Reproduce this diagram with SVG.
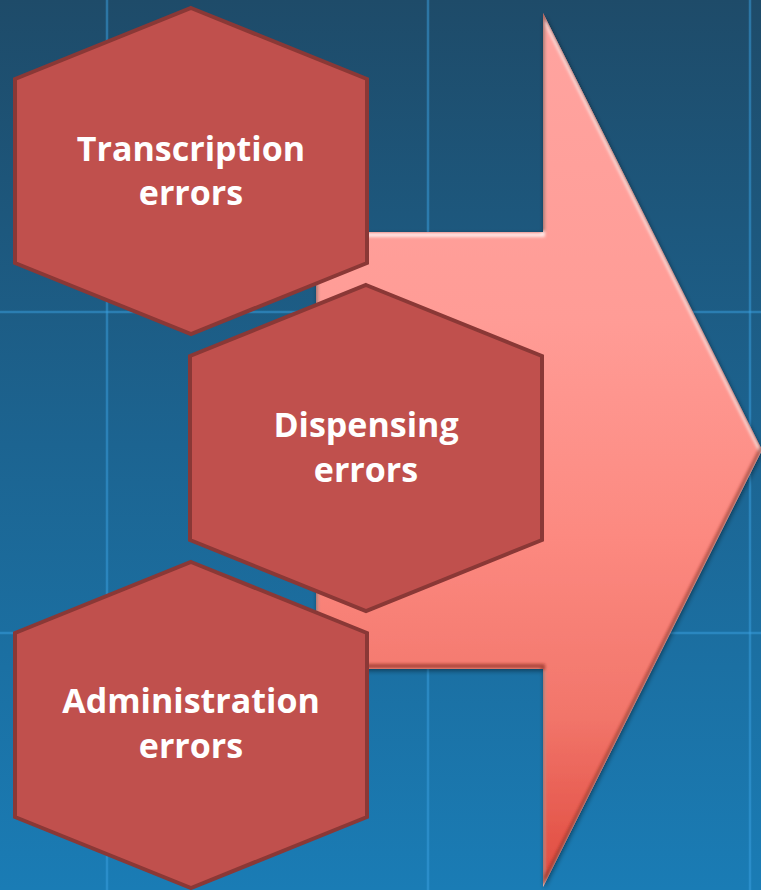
<svg xmlns="http://www.w3.org/2000/svg" width="761" height="890" viewBox="0 0 761 890">
  <defs>
    <linearGradient id="bg" x1="0" y1="0" x2="0" y2="1">
      <stop offset="0" stop-color="#1E4B69"/>
      <stop offset="0.5" stop-color="#1C6491"/>
      <stop offset="1" stop-color="#1A7CB5"/>
    </linearGradient>
    <linearGradient id="arrowFill" gradientUnits="userSpaceOnUse" x1="0" y1="13" x2="0" y2="887">
      <stop offset="0" stop-color="#FFA4A0"/>
      <stop offset="0.35" stop-color="#FF9C96"/>
      <stop offset="0.6" stop-color="#FC8980"/>
      <stop offset="0.8" stop-color="#F2766B"/>
      <stop offset="1" stop-color="#DF4A3E"/>
    </linearGradient>
    <clipPath id="arrowClip">
      <polygon points="316,232 543,232 543,13 762,450 543,887 543,669 316,669"/>
    </clipPath>
    <filter id="soft" x="-5%" y="-5%" width="110%" height="110%">
      <feGaussianBlur stdDeviation="1.5"/>
    </filter>
    <filter id="drop" x="-10%" y="-10%" width="120%" height="120%">
      <feGaussianBlur in="SourceAlpha" stdDeviation="2.5"/>
      <feOffset dx="1" dy="2" result="b"/>
      <feComponentTransfer><feFuncA type="linear" slope="0.45"/></feComponentTransfer>
      <feMerge><feMergeNode/><feMergeNode in="SourceGraphic"/></feMerge>
    </filter>
  </defs>
  <style>
    .grid { stroke: #3A9FE0; stroke-opacity: 0.5; stroke-width: 2.5; }
    .hex { fill: #C0504D; stroke: #8A3836; stroke-width: 4; stroke-linejoin: miter; }
    .label { font-family: "Open Sans", "Liberation Sans", sans-serif; font-weight: 700; font-size: 34px; fill: #FFFFFF; text-anchor: middle; }
  </style>

  <rect x="0" y="0" width="761" height="890" fill="url(#bg)"/>
  <g id="grid">
    <line class="grid" x1="107" y1="0" x2="107" y2="890"/>
    <line class="grid" x1="428" y1="0" x2="428" y2="890"/>
    <line class="grid" x1="750" y1="0" x2="750" y2="890"/>
    <line class="grid" x1="0" y1="312" x2="761" y2="312"/>
    <line class="grid" x1="0" y1="633" x2="761" y2="633"/>
  </g>

  <g id="arrow">
    <polygon points="316,232 543,232 543,13 762,450 543,887 543,669 316,669" fill="url(#arrowFill)" filter="url(#drop)"/>
    <g clip-path="url(#arrowClip)">
      <polygon points="316,232 543,232 543,13 762,450 543,887 543,669 316,669" fill="none" stroke="#FFFFFF" stroke-opacity="0.75" stroke-width="4" transform="translate(0,3)" filter="url(#soft)"/>
      <polygon points="316,232 543,232 543,13 762,450 543,887 543,669 316,669" fill="none" stroke="#7A1E18" stroke-opacity="0.6" stroke-width="4" transform="translate(0,-3)" filter="url(#soft)"/>
    </g>
  </g>

  <g id="connectors"></g>

  <g id="node-transcription">
    <polygon class="hex" points="191,8 367,79 367,263 191,334 15,263 15,79"/>
    <text class="label" x="191" y="161">Transcription</text>
    <text class="label" x="191" y="205">errors</text>
  </g>

  <g id="node-dispensing">
    <polygon class="hex" points="366,285 542,356 542,540 366,611 190,540 190,356"/>
    <text class="label" x="366" y="437">Dispensing</text>
    <text class="label" x="366" y="482">errors</text>
  </g>

  <g id="node-administration">
    <polygon class="hex" points="191,562 367,633 367,817 191,888 15,817 15,633"/>
    <text class="label" x="191" y="713">Administration</text>
    <text class="label" x="191" y="758">errors</text>
  </g>
</svg>
